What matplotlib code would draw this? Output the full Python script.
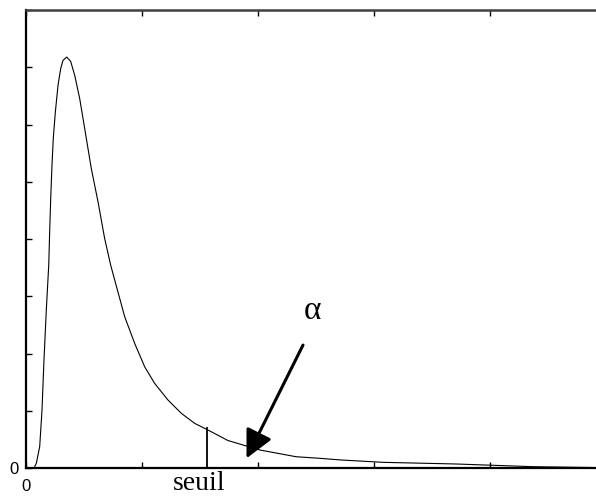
import numpy as np
import matplotlib.pyplot as plt

# density curve (x in tick units, y in tick units)
x = [0.0, 0.069, 0.089, 0.118, 0.138, 0.155, 0.175, 0.196, 0.204, 0.213,
     0.224, 0.235, 0.253, 0.276, 0.299, 0.319, 0.351,
     0.385, 0.420, 0.463, 0.506, 0.563, 0.621, 0.678, 0.730, 0.765, 0.851,
     0.937, 1.023, 1.109, 1.224, 1.339, 1.454, 1.569, 1.741, 2.017, 2.328,
     2.534, 2.716, 3.078, 3.707, 4.371, 5.0]
y = [0.0, 0.0, 0.082, 0.372, 1.012, 1.885, 2.757, 3.543, 4.124, 4.707,
     5.288, 5.754, 6.218, 6.684, 6.976, 7.120, 7.178,
     7.103, 6.859, 6.452, 5.928, 5.230, 4.648, 4.009, 3.543, 3.281, 2.641,
     2.176, 1.768, 1.478, 1.187, 0.955, 0.780, 0.663, 0.480, 0.314, 0.197,
     0.169, 0.140, 0.099, 0.070, 0.023, 0.005]

seuil_x = 1.558
seuil_h = 0.69
arrow_tail = (2.388, 2.147)
arrow_tip = (1.901, 0.169)

fig = plt.figure(figsize=(5.96, 4.99), dpi=100)
ax = fig.add_axes([26/596, 31/499, 580/596, 458/499])

ax.plot(x, y, color='black', lw=0.8)
ax.plot([seuil_x, seuil_x], [0, seuil_h], color='black', lw=1.3)

ax.annotate('', xy=arrow_tip, xytext=arrow_tail,
            arrowprops=dict(arrowstyle='-|>,head_length=1.0,head_width=0.5',
                            mutation_scale=17, lw=2.2, color='black',
                            shrinkA=0, shrinkB=0))

ax.text(2.474, 2.74, '\u03b1', fontsize=24, family='Liberation Serif',
        ha='center', va='center')
ax.text(1.49, -0.39, 'seuil', fontsize=20, family='Liberation Serif',
        ha='center', va='baseline', clip_on=False)

ax.set_xlim(0, 5)
ax.set_ylim(0, 8)
ax.set_xticks(range(6))
ax.set_xticklabels(['0', '', '', '', '', ''])
ax.set_yticks(range(9))
ax.set_yticklabels(['0'] + [''] * 8)
ax.tick_params(direction='in', length=4, width=1, top=True, right=True,
               labelsize=12)
ax.tick_params(axis='x', pad=8)
ax.tick_params(axis='y', pad=5)
for lab in ax.get_xticklabels() + ax.get_yticklabels():
    lab.set_family('Liberation Sans')

ax.spines['left'].set_linewidth(1.6)
ax.spines['bottom'].set_linewidth(1.6)
ax.spines['top'].set_linewidth(1.8)
ax.spines['top'].set_color('#404040')

fig.savefig('out.png', dpi=100)
